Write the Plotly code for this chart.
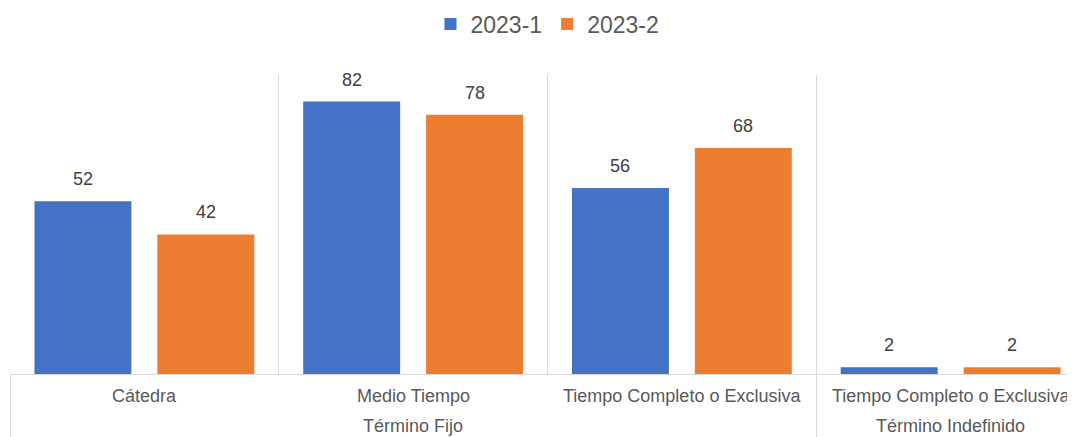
import plotly.graph_objects as go

# ---- data ----
subcats = ["Cátedra", "Medio Tiempo", "Tiempo Completo o Exclusiva", "Tiempo Completo o Exclusiva"]
groups = ["Término Fijo", "Término Fijo", "Término Fijo", "Término Indefinido"]
series_names = ["2023-1", "2023-2"]
vals_2023_1 = [52, 82, 56, 2]
vals_2023_2 = [42, 78, 68, 2]
series_vals = [vals_2023_1, vals_2023_2]
colors = ["#4472C4", "#ED7D31"]

FONT = "Liberation Sans, Arial, sans-serif"
BARGAP = 0.0855
BARGROUPGAP = 0.211
x = list(range(len(subcats)))

# the page body has an 8px margin; the figure is laid out to compensate
PAGE_OFF = 8
W, H = 1085, 437

fig = go.Figure()
for name, vals, c in zip(series_names, series_vals, colors):
    fig.add_trace(go.Bar(x=x, y=vals, name=name, marker_color=c,
                         marker_line_width=0, hoverinfo="y+name"))

# data labels
n = len(series_names)
slot = (1 - BARGAP) / n
annotations = []
for k, vals in enumerate(series_vals):
    off = -(1 - BARGAP) / 2 + slot * (k + 0.5)
    for i, v in enumerate(vals):
        annotations.append(dict(x=i + off, y=v, xref="x", yref="y", text=str(v),
                                showarrow=False, yanchor="bottom", yshift=10,
                                font=dict(family=FONT, size=18, color="#404040")))

# category labels
for i, s in enumerate(subcats):
    annotations.append(dict(x=i, y=0, xref="x", yref="paper", text=s, showarrow=False,
                            yanchor="middle", yshift=-22,
                            font=dict(family=FONT, size=18, color="#595959")))

# group labels and boundaries
group_bounds = [-0.5]
inner_bounds = []
start = 0
for i in range(1, len(groups) + 1):
    if i == len(groups) or groups[i] != groups[start]:
        annotations.append(dict(x=(start + i - 1) / 2, y=0, xref="x", yref="paper",
                                text=groups[start], showarrow=False, yanchor="middle",
                                yshift=-52,
                                font=dict(family=FONT, size=18, color="#595959")))
        if i < len(groups):
            group_bounds.append(i - 0.5)
        start = i
    else:
        inner_bounds.append(i - 0.5)

fig.update_layout(
    width=W, height=H,
    margin=dict(l=10 - PAGE_OFF, r=8, t=75 - PAGE_OFF, b=H - (374 - PAGE_OFF),
                autoexpand=False),
    paper_bgcolor="white", plot_bgcolor="white",
    barmode="group", bargap=BARGAP, bargroupgap=BARGROUPGAP,
    font=dict(family=FONT, color="#595959"),
    legend=dict(orientation="h", x=0.5, xanchor="center", yref="container",
                y=1 - (24 - PAGE_OFF) / H, yanchor="middle",
                font=dict(family=FONT, size=23, color="#595959")),
    annotations=annotations,
    showlegend=True,
)
fig.update_xaxes(
    range=[-0.5, len(subcats) - 0.5], automargin=False,
    tickmode="array", tickvals=group_bounds, showticklabels=False,
    ticks="outside", ticklen=H - (374 - PAGE_OFF), tickcolor="#d9d9d9", tickwidth=1,
    showgrid=True, gridcolor="#d9d9d9", gridwidth=1,
    minor=dict(tickmode="array", tickvals=inner_bounds, showgrid=True,
               gridcolor="#d9d9d9", gridwidth=1, ticks=""),
    showline=True, linecolor="#d9d9d9", linewidth=1, zeroline=False,
)
fig.update_yaxes(range=[0, 90], visible=False, automargin=False)

fig.write_html("out.html")
